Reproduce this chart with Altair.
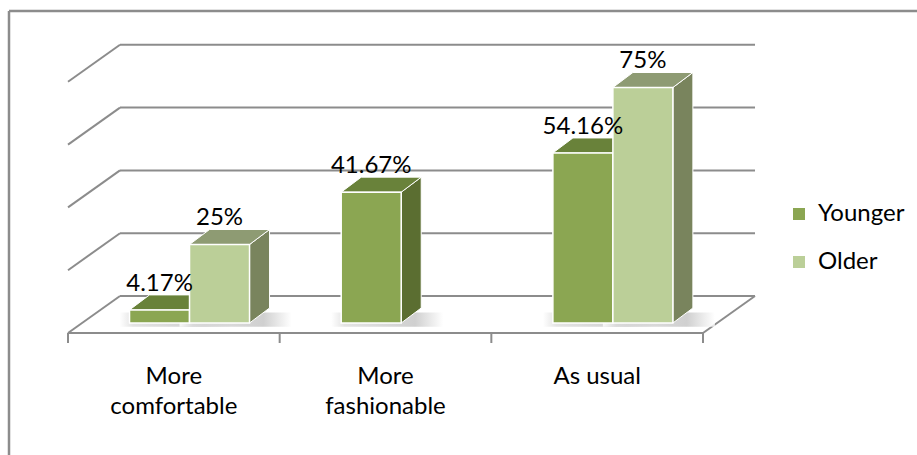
import altair as alt
import pandas as pd

# ---------------- data ----------------
categories = ["More comfortable", "More fashionable", "As usual"]
category_lines = ["More\ncomfortable", "More\nfashionable", "As usual"]
series = ["Younger", "Older"]
younger = [4.17, 41.67, 54.16]
older = [25, None, 75]
gridlines = [0, 20, 40, 60, 80]

# ---------------- geometry / style ----------------
W, H = 917, 455
X0 = 68.0          # px of left front floor corner
BAND = 211.67      # px per category
BASE = 323.0       # px of bar front baseline
PPP = 3.14         # px per percent
FLOOR_FRONT = (BASE - 333) / PPP
FLOOR_BACK = (BASE - 296) / PPP
FLOOR_DX = 52 / BAND
TICK_END = (BASE - 343) / PPP
BAR_W = 60 / BAND
GROUP_OFF = 15.7 / BAND
DEPTH_X = 20 / BAND
DEPTH_Y = 15 / PPP
FONT = "Lato"
FS = 24
GRID = "#8C8C8C"
front_col = {"Younger": "#8BA652", "Older": "#BBCF98"}
top_col = {"Younger": "#69823A", "Older": "#8E9B73"}
side_col = {"Younger": "#5B6E31", "Older": "#79845D"}

xs = alt.Scale(domain=[(0 - X0) / BAND, (W - X0) / BAND], nice=False, zero=False)
ys = alt.Scale(domain=[(BASE - H) / PPP, BASE / PPP], nice=False, zero=False)


def X(f):
    return alt.X(f, type="quantitative", scale=xs, axis=None)


def Y(f):
    return alt.Y(f, type="quantitative", scale=ys, axis=None)


# ---------------- tables ----------------
bars = []
for i, cat in enumerate(categories):
    c = i + 0.5 + GROUP_OFF
    for s, vals in zip(series, [younger, older]):
        v = vals[i]
        if v is None:
            continue
        xl = c - BAR_W if s == "Younger" else c
        bars.append(dict(id=f"{cat}-{s}", series=s, cat=cat, v=v, xl=xl, xr=xl + BAR_W,
                         xc=xl + BAR_W / 2, label=f"{v:g}%",
                         ly=v + DEPTH_Y + 1.3))
bars_df = pd.DataFrame(bars)

side_rows, top_rows = [], []
for b in bars:
    side_rows.append(dict(id=b["id"], series=b["series"], x=b["xr"], y=0, y2=b["v"]))
    side_rows.append(dict(id=b["id"], series=b["series"], x=b["xr"] + DEPTH_X, y=DEPTH_Y, y2=b["v"] + DEPTH_Y))
    top_rows.append(dict(id=b["id"], series=b["series"], y=b["v"], x=b["xl"], x2=b["xr"]))
    top_rows.append(dict(id=b["id"], series=b["series"], y=b["v"] + DEPTH_Y, x=b["xl"] + DEPTH_X, x2=b["xr"] + DEPTH_X))
side_df = pd.DataFrame(side_rows)
top_df = pd.DataFrame(top_rows)

lines = []
for g in gridlines:
    lines.append(dict(x=FLOOR_DX, x2=FLOOR_DX + 3, y=g + FLOOR_BACK, y2=g + FLOOR_BACK))
    lines.append(dict(x=0, x2=FLOOR_DX, y=g + FLOOR_FRONT, y2=g + FLOOR_BACK))
lines.append(dict(x=0, x2=3, y=FLOOR_FRONT, y2=FLOOR_FRONT))
lines.append(dict(x=3, x2=3 + FLOOR_DX, y=FLOOR_FRONT, y2=FLOOR_BACK))
for t in range(4):
    lines.append(dict(x=t, x2=t, y=FLOOR_FRONT, y2=TICK_END))
lines_df = pd.DataFrame(lines)

cat_df = pd.DataFrame(dict(cat=category_lines, x=[i + 0.5 for i in range(3)],
                           y=[(BASE - 365) / PPP] * 3))

# ---------------- layers ----------------
grid = alt.Chart(lines_df).mark_rule(color=GRID, strokeWidth=2).encode(
    x=X("x"), x2="x2", y=Y("y"), y2="y2")

shadow_fill = alt.Gradient(
    gradient="linear", x1=0, x2=1, y1=0, y2=0,
    stops=[alt.GradientStop(offset=0, color="#ffffff"),
           alt.GradientStop(offset=0.12, color="#dcdcdc"),
           alt.GradientStop(offset=0.75, color="#c4c4c4"),
           alt.GradientStop(offset=1, color="#ffffff")])
shadow = alt.Chart(bars_df).transform_calculate(
    sx1=f"datum.xl - {10 / BAND}", sx2=f"datum.xr + {DEPTH_X + 22 / BAND}",
    sy1="-1.2", sy2=f"{DEPTH_Y * 0.7}"
).mark_rect(color=shadow_fill, opacity=0.8).encode(
    x=X("sx1:Q"), x2="sx2:Q", y=Y("sy1:Q"), y2="sy2:Q")

layers = [grid, shadow]
for s in series:
    layers.append(alt.Chart(side_df[side_df.series == s]).mark_area(
        orient="vertical", color=side_col[s], stroke="white", strokeWidth=1).encode(
        x=X("x"), y=Y("y"), y2="y2", detail="id:N"))
for s in series:
    layers.append(alt.Chart(top_df[top_df.series == s]).mark_area(
        orient="horizontal", color=top_col[s], stroke="white", strokeWidth=1).encode(
        y=Y("y"), x=X("x"), x2="x2", detail="id:N"))

front = alt.Chart(bars_df).mark_rect(stroke="white", strokeWidth=1.5).encode(
    x=X("xl"), x2="xr", y=alt.Y("zero:Q", scale=ys, axis=None), y2="v",
    color=alt.Color("series:N", scale=alt.Scale(domain=series, range=[front_col[s] for s in series]),
                    legend=alt.Legend(orient="none", legendX=787, legendY=202, title=None,
                                      symbolType="square", symbolSize=144, symbolStrokeWidth=0,
                                      labelFont=FONT, labelFontSize=FS, labelColor="black",
                                      rowPadding=24, labelOffset=7))
).transform_calculate(zero="0")
layers.append(front)

vlabels = alt.Chart(bars_df).mark_text(font=FONT, fontSize=FS, baseline="alphabetic",
                                       align="center", color="black").encode(
    x=X("xc"), y=Y("ly"), text="label:N")
layers.append(vlabels)

clabels = alt.Chart(cat_df).mark_text(font=FONT, fontSize=FS, baseline="top", align="center",
                                      lineBreak="\n", lineHeight=30, color="black").encode(
    x=X("x"), y=Y("y"), text="cat:N")
layers.append(clabels)

border_top = alt.Chart(pd.DataFrame({"a": [0]})).mark_rule(color=GRID, strokeWidth=2.5).encode(
    x=alt.value(9), x2=alt.value(W), y=alt.value(11))
border_left = alt.Chart(pd.DataFrame({"a": [0]})).mark_rule(color=GRID, strokeWidth=2.5).encode(
    x=alt.value(9), y=alt.value(11), y2=alt.value(H))
layers += [border_top, border_left]

chart = alt.layer(*layers).properties(
    width=W, height=H, padding=0, autosize=alt.AutoSizeParams(type="none"),
    background="white"
).configure_view(stroke=None)

chart.save("out.html", embed_options={"renderer": "svg", "actions": False})
